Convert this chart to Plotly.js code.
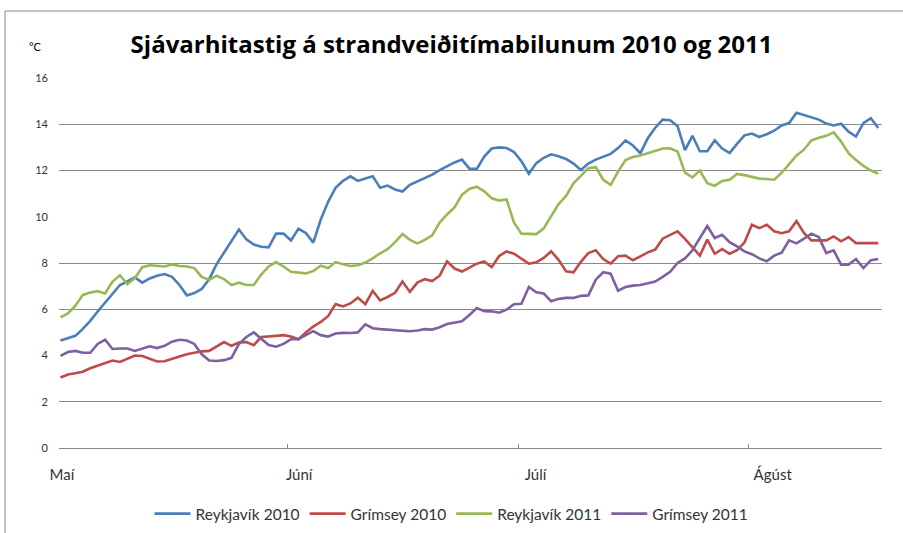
<!DOCTYPE html>
<html>
<head>
<meta charset="utf-8">
<script src="https://cdn.plot.ly/plotly-3.0.1.min.js"></script>
<style>
html,body{margin:0;padding:0;background:#fff;}
#chart{width:903px;height:533px;}
</style>
</head>
<body>
<div id="chart"></div>
<script>
// ---- data ----
const seriesNames = ["Reykjavík 2010", "Grímsey 2010", "Reykjavík 2011", "Grímsey 2011"];
const monthLabels = ["Maí", "Júní", "Júlí", "Ágúst"];
const monthLabelPos = [0.2, 32.1, 63.9, 95.8];
const monthTickPos = [-0.2, 30.6, 61.6, 92.5];
const yTicks = [0, 2, 4, 6, 8, 10, 12, 14, 16];
const yGridVisible = [2, 6, 8, 12, 14];

const reykjavik2010 = [
4.65,4.75,4.85,5.15,5.5,5.9,6.3,6.7,7.05,7.2,
7.38,7.15,7.33,7.45,7.52,7.4,7.05,6.6,6.7,6.88,
7.3,7.95,8.45,8.95,9.45,9.02,8.8,8.7,8.68,9.27,
9.27,8.97,9.48,9.3,8.88,9.87,10.65,11.25,11.55,11.75,
11.55,11.65,11.75,11.25,11.35,11.18,11.09,11.38,11.52,11.65,
11.82,12.02,12.18,12.35,12.47,12.08,12.07,12.6,12.95,13.0,
12.97,12.8,12.4,11.86,12.32,12.55,12.7,12.62,12.5,12.3,
12.02,12.3,12.47,12.6,12.72,12.97,13.3,13.08,12.75,13.4,
13.85,14.2,14.17,13.92,12.88,13.5,12.83,12.83,13.3,12.95,
12.75,13.15,13.52,13.6,13.45,13.57,13.72,13.95,14.05,14.5,
14.4,14.3,14.2,14.03,13.95,14.02,13.68,13.47,14.05,14.26,
13.84];

const grimsey2010 = [
3.05,3.18,3.23,3.3,3.45,3.57,3.67,3.78,3.72,3.87,
4.0,3.98,3.86,3.74,3.75,3.87,3.96,4.05,4.12,4.18,
4.2,4.38,4.58,4.42,4.56,4.58,4.45,4.8,4.84,4.85,
4.88,4.82,4.7,5.0,5.25,5.45,5.7,6.22,6.12,6.25,
6.5,6.22,6.8,6.38,6.53,6.71,7.2,6.75,7.15,7.3,
7.22,7.45,8.07,7.76,7.63,7.8,7.97,8.07,7.82,8.3,
8.5,8.4,8.17,7.97,8.03,8.22,8.5,8.14,7.64,7.6,
8.05,8.43,8.55,8.17,7.97,8.29,8.32,8.12,8.29,8.46,
8.58,9.05,9.22,9.37,9.04,8.69,8.32,9.01,8.4,8.6,
8.4,8.55,8.89,9.65,9.51,9.65,9.37,9.29,9.37,9.81,
9.3,8.98,8.98,8.98,9.15,8.94,9.12,8.86,8.86,8.86,
8.86];

const reykjavik2011 = [
5.65,5.82,6.15,6.62,6.72,6.78,6.68,7.2,7.47,7.08,
7.35,7.82,7.9,7.88,7.85,7.94,7.87,7.85,7.78,7.4,
7.27,7.45,7.3,7.05,7.15,7.05,7.05,7.5,7.85,8.04,
7.85,7.62,7.58,7.55,7.65,7.88,7.78,8.04,7.95,7.87,
7.9,8.02,8.2,8.42,8.6,8.9,9.25,9.0,8.85,9.0,
9.2,9.75,10.1,10.4,10.95,11.2,11.3,11.1,10.8,10.7,
10.75,9.75,9.27,9.25,9.25,9.5,10.05,10.55,10.9,11.45,
11.77,12.1,12.14,11.6,11.38,11.95,12.45,12.58,12.65,12.75,
12.82,12.95,12.96,12.82,11.91,11.7,12.0,11.45,11.34,11.55,
11.6,11.85,11.8,11.72,11.65,11.63,11.6,11.9,12.3,12.65,
12.9,13.3,13.42,13.5,13.65,13.25,12.75,12.45,12.2,12.0,
11.86];

const grimsey2011 = [
3.98,4.15,4.2,4.12,4.12,4.5,4.68,4.28,4.3,4.3,
4.2,4.3,4.4,4.32,4.42,4.6,4.68,4.65,4.5,4.05,
3.78,3.76,3.8,3.9,4.5,4.8,5.0,4.72,4.45,4.38,
4.5,4.7,4.7,4.88,5.05,4.88,4.82,4.95,4.98,4.97,
5.0,5.35,5.18,5.14,5.12,5.07,5.05,5.05,5.08,5.14,
5.12,5.22,5.36,5.42,5.48,5.75,6.05,5.92,5.91,5.85,
5.98,6.22,6.24,6.96,6.73,6.68,6.35,6.45,6.49,6.49,
6.58,6.6,7.28,7.6,7.54,6.8,6.96,7.02,7.05,7.12,
7.2,7.4,7.62,8.0,8.2,8.55,9.1,9.6,9.08,9.22,
8.9,8.72,8.5,8.38,8.2,8.07,8.32,8.45,8.98,8.85,
9.05,9.27,9.12,8.43,8.55,7.93,7.93,8.17,7.78,8.12,
8.17];

const seriesValues = [reykjavik2010, grimsey2010, reykjavik2011, grimsey2011];
const colors = ["#4A7EBB", "#BE4B48", "#98B954", "#7D60A0"];

const traces = seriesValues.map((vals, k) => ({
  type: "scatter",
  mode: "lines",
  name: seriesNames[k],
  x: vals.map((_, i) => i),
  y: vals,
  line: {color: colors[k], width: 2.6},
  hoverinfo: "skip"
}));

// invisible helper trace for the secondary axes (gridlines / tick marks)
traces.push({type:"scatter", mode:"lines", x:[0], y:[0], xaxis:"x2", yaxis:"y2",
  showlegend:false, hoverinfo:"skip", line:{color:"rgba(0,0,0,0)"}});

const font = "Lato, 'Open Sans', sans-serif";
const xRange = [-0.2, 110.5];
const yRange = [0, 16];

const layout = {
  width: 903, height: 533,
  margin: {l: 59, r: 21, t: 78, b: 85, autoexpand: false},
  paper_bgcolor: "#ffffff",
  plot_bgcolor: "#ffffff",
  font: {family: font, color: "#000", size: 12},
  title: {
    text: "<b>Sjávarhitastig á strandveiðitímabilunum 2010 og 2011</b>",
    font: {family: "'Open Sans', sans-serif", size: 24, color: "#000"},
    x: 0.5, xanchor: "center", xref: "container",
    y: 1 - 45/533, yref: "container", yanchor: "middle"
  },
  showlegend: true,
  legend: {
    orientation: "h",
    x: 0.5, xanchor: "center", xref: "container",
    y: (533 - 514) / 533, yanchor: "middle", yref: "container",
    font: {family: font, size: 15.5, color: "#333"},
    itemwidth: 36,
    tracegroupgap: 0
  },
  xaxis: {
    range: xRange, automargin: false,
    tickmode: "array", tickvals: monthLabelPos, ticktext: monthLabels,
    ticks: "", showgrid: false, zeroline: false,
    showline: true, linecolor: "#8a8a8a", linewidth: 1,
    tickfont: {family: font, size: 15, color: "#333"},
    ticklabelstandoff: 13,
    fixedrange: true
  },
  xaxis2: {
    overlaying: "x", range: xRange, automargin: false,
    tickmode: "array", tickvals: monthTickPos,
    ticks: "inside", ticklen: 4, tickcolor: "#8a8a8a",
    showticklabels: false, showgrid: false, zeroline: false, showline: false,
    side: "bottom", anchor: "y"
  },
  yaxis: {
    range: yRange, automargin: false,
    tickmode: "array", tickvals: yTicks,
    ticks: "", showgrid: false, zeroline: false, showline: false,
    tickfont: {family: font, size: 11, color: "#333"},
    ticklabelstandoff: 10,
    fixedrange: true
  },
  yaxis2: {
    overlaying: "y", range: yRange, automargin: false,
    tickmode: "array", tickvals: yGridVisible,
    showgrid: true, gridcolor: "#8a8a8a", gridwidth: 1,
    showticklabels: false, ticks: "", zeroline: false, showline: false,
    side: "left", anchor: "x"
  },
  annotations: [{
    text: "°C", xref: "paper", yref: "paper",
    x: -0.028, y: 1.085, xanchor: "center", yanchor: "middle",
    showarrow: false, font: {family: font, size: 11, color: "#000"}
  }],
  shapes: [{
    type: "rect", xref: "paper", yref: "paper",
    x0: -0.0656, x1: 1.2, y0: -0.6, y1: 1.181,
    line: {color: "#8a8a8a", width: 1}, fillcolor: "rgba(0,0,0,0)", layer: "below"
  }]
};

Plotly.newPlot("chart", traces, layout, {displayModeBar: false, staticPlot: true});
</script>
</body>
</html>
